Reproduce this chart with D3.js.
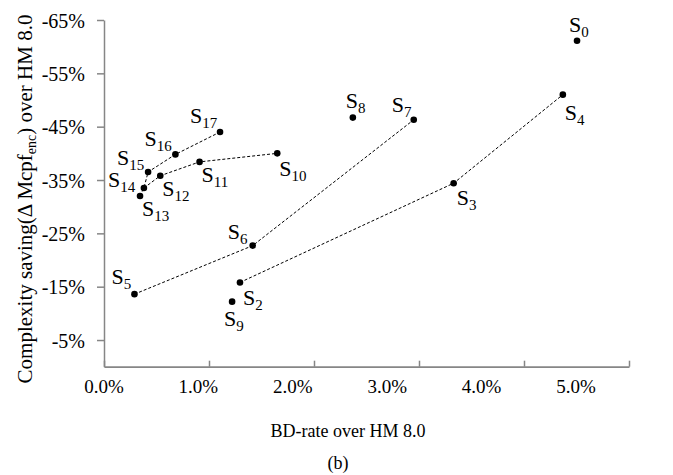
<!DOCTYPE html>
<html>
<head>
<meta charset="utf-8">
<script src="https://cdn.jsdelivr.net/npm/d3@7"></script>
<style>
  html, body { margin: 0; padding: 0; background: #fff; }
  svg { display: block; font-family: "Liberation Serif", "Times New Roman", serif; }
</style>
</head>
<body>
<svg id="chart" width="673" height="475"></svg>
<script>
// ---- data ----
const pointNames = ["S0","S2","S3","S4","S5","S6","S7","S8","S9","S10","S11","S12","S13","S14","S15","S16","S17"];
const bdRate = [4.505, 1.295, 3.33, 4.37, 0.29, 1.416, 2.95, 2.37, 1.22, 1.65, 0.91, 0.536, 0.343, 0.38, 0.42, 0.68, 1.105];
const complexitySaving = [-61.1, -15.8, -34.4, -51.0, -13.6, -22.7, -46.3, -46.7, -12.2, -40.0, -38.4, -35.8, -32.0, -33.5, -36.5, -39.8, -44.0];
const curves = [
  ["S5","S6","S7"],
  ["S2","S3","S4"],
  ["S13","S14","S15","S16","S17"],
  ["S14","S12","S11","S10"]
];
const xTicks = [0, 1, 2, 3, 4, 5];
const yTicks = [-65, -55, -45, -35, -25, -15, -5];
const xTitle = "BD-rate over HM 8.0";
const caption = "(b)";

// ---- layout (label placement relative to each point) ----
const labelOffsets = {
  S0: [-8, -9], S2: [3, 23], S3: [3, 22], S4: [2, 25], S5: [-23, -10],
  S6: [-25, -7], S7: [-22, -8], S8: [-7, -10], S9: [-8, 24], S10: [2, 23],
  S11: [2, 20], S12: [2, 20], S13: [2, 20], S14: [-36, -1], S15: [-31, -7],
  S16: [-31, -8], S17: [-30, -9]
};

const svg = d3.select("#chart");
const axisColor = "#868686";
const serif = "Liberation Serif, Times New Roman, serif";

const x = d3.scaleLinear().domain([0, 5]).range([104, 629]);
// tick labels in the reference sit on a narrower spacing than the tick marks
const xLabel = d3.scaleLinear().domain([0, 5]).range([103.5, 575.5]);
const y = d3.scaleLinear().domain([0, -65]).range([366.7, 20]);

const pts = pointNames.map((n, i) => ({ name: n, bx: bdRate[i], cy: complexitySaving[i] }));
const byName = Object.fromEntries(pts.map(p => [p.name, p]));

// Y axis
const yAxis = svg.append("g")
  .attr("transform", `translate(${x(0)},0)`)
  .call(d3.axisLeft(y).tickValues(yTicks).tickSize(7).tickSizeOuter(0).tickPadding(12)
    .tickFormat(d => d + "%"));
yAxis.select(".domain").attr("stroke", axisColor).attr("stroke-width", 1.5);
yAxis.selectAll(".tick line").attr("stroke", axisColor).attr("stroke-width", 1.5);
yAxis.selectAll(".tick text").attr("font-size", 20).attr("fill", "#000")
  .attr("font-family", serif).attr("dy", "0.35em");

// X axis (line + tick marks)
const xAxis = svg.append("g")
  .attr("transform", `translate(0,${y(0)})`)
  .call(d3.axisBottom(x).tickValues(xTicks).tickSize(-6).tickSizeOuter(0).tickFormat(""));
xAxis.select(".domain").attr("stroke", axisColor).attr("stroke-width", 1.7);
xAxis.selectAll(".tick line").attr("stroke", axisColor).attr("stroke-width", 1.5);

// X tick labels
const xLab = svg.append("g")
  .attr("transform", `translate(0,${y(0)})`)
  .call(d3.axisBottom(xLabel).tickValues(xTicks).tickSize(0).tickSizeOuter(0)
    .tickFormat(d => d3.format(".1f")(d) + "%"));
xLab.select(".domain").remove();
xLab.selectAll(".tick text").attr("font-size", 19).attr("fill", "#000")
  .attr("font-family", serif).attr("y", 26).attr("dy", 0);

// Dashed connecting lines
const line = d3.line().x(p => x(p.bx)).y(p => y(p.cy));
svg.append("g").selectAll("path").data(curves).join("path")
  .attr("d", c => line(c.map(n => byName[n])))
  .attr("fill", "none").attr("stroke", "#000").attr("stroke-width", 1)
  .attr("stroke-dasharray", "3,2");

// Points
svg.append("g").selectAll("circle").data(pts).join("circle")
  .attr("cx", p => x(p.bx)).attr("cy", p => y(p.cy)).attr("r", 3.3).attr("fill", "#000");

// Point labels S with subscript
const lbl = svg.append("g").selectAll("text").data(pts).join("text")
  .attr("x", p => x(p.bx) + labelOffsets[p.name][0])
  .attr("y", p => y(p.cy) + labelOffsets[p.name][1])
  .attr("font-size", 22).attr("fill", "#000");
lbl.append("tspan").text("S");
lbl.append("tspan").attr("font-size", 15).attr("dy", 5).text(p => p.name.slice(1));

// Axis titles
const yt = svg.append("text")
  .attr("transform", "translate(32,199) rotate(-90)")
  .attr("text-anchor", "middle").attr("font-size", 21).attr("fill", "#000");
yt.append("tspan").text("Complexity saving(\u0394 Mcpf");
yt.append("tspan").attr("font-size", 14).attr("dy", 4).text("enc");
yt.append("tspan").attr("dy", -4).text(") over HM 8.0");

svg.append("text").attr("x", 348).attr("y", 437).attr("text-anchor", "middle")
  .attr("font-size", 18).attr("fill", "#000").text(xTitle);
svg.append("text").attr("x", 338).attr("y", 469).attr("text-anchor", "middle")
  .attr("font-size", 18).attr("fill", "#000").text(caption);
</script>
</body>
</html>
